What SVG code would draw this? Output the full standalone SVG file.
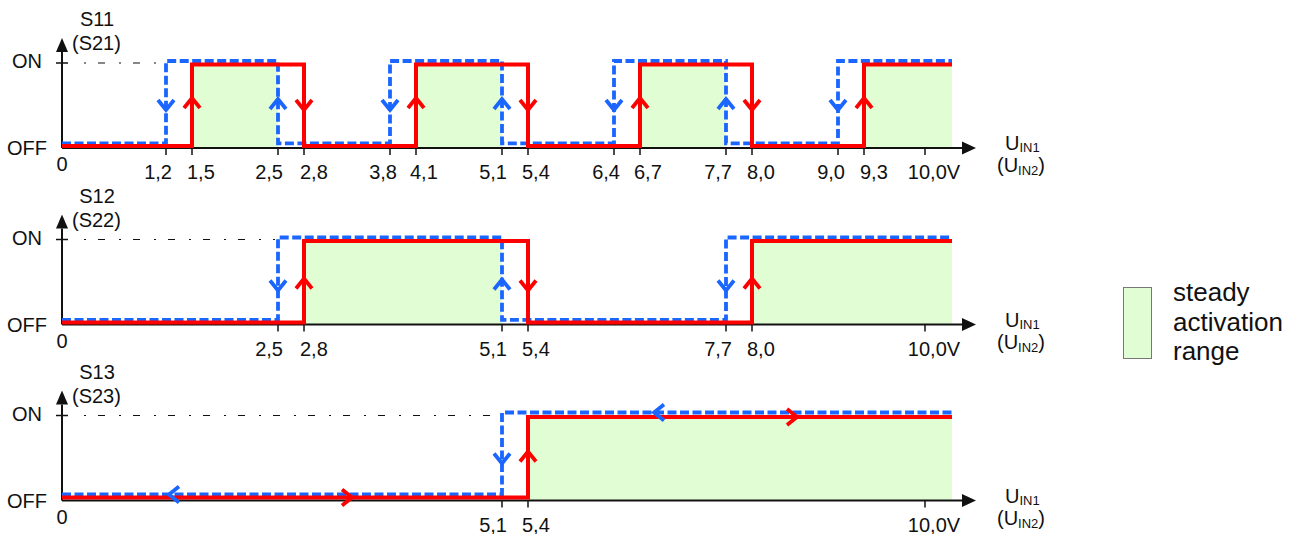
<svg xmlns="http://www.w3.org/2000/svg" xmlns:xlink="http://www.w3.org/1999/xlink" width="1295" height="534" viewBox="0 0 1295 534">
<style>
text{font-family:"Liberation Sans",Arial,sans-serif;fill:#111;}
.lbl{font-size:20px;}
.sub{font-size:13px;}
.leg{font-size:26px;}
.axis{stroke:#111;stroke-width:2;fill:none;}
.tick{stroke:#111;stroke-width:1.5;}
.dd{stroke:#111;stroke-width:1.2;stroke-dasharray:2,12,7,14;fill:none;}
.green{fill:#e0fdd4;}
.red{stroke:#ff0000;stroke-width:4;fill:none;stroke-linejoin:miter;}
.blue{stroke:#1a66ff;stroke-width:3.8;fill:none;stroke-dasharray:9,3.5;}
.rch{stroke:#ff0000;stroke-width:3.8;fill:none;}
.bch{stroke:#1a66ff;stroke-width:3.8;fill:none;}
</style>
<defs>
<path id="up" d="M-8,10 L0,0 L8,10"/>
<path id="dn" d="M-8,-10 L0,0 L8,-10"/>
<path id="lt" d="M10,-8 L0,0 L10,8"/>
<path id="rt" d="M-10,-8 L0,0 L-10,8"/>
</defs>

<!-- Panel 1 -->
<g id="panel1">
  <g id="p1-fill">
    <rect class="green" x="192" y="64.5" width="86" height="83"/>
    <rect class="green" x="416" y="64.5" width="86" height="83"/>
    <rect class="green" x="640" y="64.5" width="86" height="83"/>
    <rect class="green" x="864" y="64.5" width="88" height="83"/>
  </g>
  <g id="p1-axes">
    <line class="axis" x1="62" y1="148" x2="963" y2="148"/>
    <polygon points="976,148 962,141.5 962,154.5" fill="#111"/>
    <line class="axis" x1="62" y1="148" x2="62" y2="52"/>
    <polygon points="62,38 56,52 68,52" fill="#111"/>
    <line class="tick" x1="56" y1="63" x2="68" y2="63"/>
    <line class="dd" x1="84" y1="63" x2="163" y2="63"/>
    <g class="tick">
      <line x1="166" y1="148" x2="166" y2="155"/><line x1="192" y1="148" x2="192" y2="155"/>
      <line x1="278" y1="148" x2="278" y2="155"/><line x1="304" y1="148" x2="304" y2="155"/>
      <line x1="390" y1="148" x2="390" y2="155"/><line x1="416" y1="148" x2="416" y2="155"/>
      <line x1="502" y1="148" x2="502" y2="155"/><line x1="528" y1="148" x2="528" y2="155"/>
      <line x1="614" y1="148" x2="614" y2="155"/><line x1="640" y1="148" x2="640" y2="155"/>
      <line x1="726" y1="148" x2="726" y2="155"/><line x1="752" y1="148" x2="752" y2="155"/>
      <line x1="838" y1="148" x2="838" y2="155"/><line x1="864" y1="148" x2="864" y2="155"/>
      <line x1="925" y1="148" x2="925" y2="155"/>
    </g>
  </g>
  <g id="p1-lines">
    <path class="blue" d="M62,143.3 H166 V61 H278 V143.3 H390 V61 H502 V143.3 H614 V61 H726 V143.3 H838 V61 H952"/>
    <path class="red" d="M62,146 H192 V64.5 H304 V146 H416 V64.5 H528 V146 H640 V64.5 H752 V146 H864 V64.5 H952"/>
    <use href="#dn" class="bch" x="166" y="110"/>
    <use href="#up" class="rch" x="192" y="98"/>
    <use href="#up" class="bch" x="278" y="99"/>
    <use href="#dn" class="rch" x="304" y="110"/>
    <use href="#dn" class="bch" x="390" y="110"/>
    <use href="#up" class="rch" x="416" y="98"/>
    <use href="#up" class="bch" x="502" y="99"/>
    <use href="#dn" class="rch" x="528" y="110"/>
    <use href="#dn" class="bch" x="614" y="110"/>
    <use href="#up" class="rch" x="640" y="98"/>
    <use href="#up" class="bch" x="726" y="99"/>
    <use href="#dn" class="rch" x="752" y="110"/>
    <use href="#dn" class="bch" x="838" y="110"/>
    <use href="#up" class="rch" x="864" y="98"/>
  </g>
  <g id="p1-labels" class="lbl">
    <text x="97" y="26" text-anchor="middle">S11</text>
    <text x="72" y="50">(S21)</text>
    <text x="12" y="68">ON</text>
    <text x="7" y="155">OFF</text>
    <text x="62" y="171" text-anchor="middle">0</text>
    <text x="172" y="179" text-anchor="end">1,2</text>
    <text x="187" y="179">1,5</text>
    <text x="283" y="179" text-anchor="end">2,5</text>
    <text x="300" y="179">2,8</text>
    <text x="397" y="179" text-anchor="end">3,8</text>
    <text x="410" y="179">4,1</text>
    <text x="507" y="179" text-anchor="end">5,1</text>
    <text x="522" y="179">5,4</text>
    <text x="620" y="179" text-anchor="end">6,4</text>
    <text x="634" y="179">6,7</text>
    <text x="732" y="179" text-anchor="end">7,7</text>
    <text x="747" y="179">8,0</text>
    <text x="845" y="179" text-anchor="end">9,0</text>
    <text x="860" y="179">9,3</text>
    <text x="934" y="179" text-anchor="middle">10,0V</text>
    <text x="1005" y="150">U<tspan class="sub" dy="2">IN1</tspan></text>
    <text x="997" y="172">(U<tspan class="sub" dy="3">IN2</tspan><tspan dy="-3">)</tspan></text>
  </g>
</g>

<!-- Panel 2 -->
<g id="panel2" transform="translate(0,176.5)">
  <g id="p2-fill">
    <rect class="green" x="304" y="64.5" width="198" height="83"/>
    <rect class="green" x="752" y="64.5" width="200" height="83"/>
  </g>
  <g id="p2-axes">
    <line class="axis" x1="62" y1="148" x2="963" y2="148"/>
    <polygon points="976,148 962,141.5 962,154.5" fill="#111"/>
    <line class="axis" x1="62" y1="148" x2="62" y2="52"/>
    <polygon points="62,38 56,52 68,52" fill="#111"/>
    <line class="tick" x1="56" y1="63" x2="68" y2="63"/>
    <line class="dd" x1="84" y1="63" x2="275" y2="63"/>
    <g class="tick">
      <line x1="278" y1="148" x2="278" y2="155"/><line x1="304" y1="148" x2="304" y2="155"/>
      <line x1="502" y1="148" x2="502" y2="155"/><line x1="528" y1="148" x2="528" y2="155"/>
      <line x1="726" y1="148" x2="726" y2="155"/><line x1="752" y1="148" x2="752" y2="155"/>
      <line x1="925" y1="148" x2="925" y2="155"/>
    </g>
  </g>
  <g id="p2-lines">
    <path class="blue" d="M62,143.3 H278 V61 H502 V143.3 H726 V61 H952"/>
    <path class="red" d="M62,146 H304 V64.5 H528 V146 H752 V64.5 H952"/>
    <use href="#dn" class="bch" x="278" y="114"/>
    <use href="#up" class="rch" x="304" y="102"/>
    <use href="#up" class="bch" x="502" y="103"/>
    <use href="#dn" class="rch" x="528" y="114"/>
    <use href="#dn" class="bch" x="726" y="114"/>
    <use href="#up" class="rch" x="752" y="102"/>
  </g>
  <g id="p2-labels" class="lbl">
    <text x="97" y="26" text-anchor="middle">S12</text>
    <text x="72" y="50">(S22)</text>
    <text x="12" y="68">ON</text>
    <text x="7" y="155">OFF</text>
    <text x="62" y="171" text-anchor="middle">0</text>
    <text x="283" y="179" text-anchor="end">2,5</text>
    <text x="300" y="179">2,8</text>
    <text x="507" y="179" text-anchor="end">5,1</text>
    <text x="522" y="179">5,4</text>
    <text x="732" y="179" text-anchor="end">7,7</text>
    <text x="747" y="179">8,0</text>
    <text x="934" y="179" text-anchor="middle">10,0V</text>
    <text x="1005" y="150">U<tspan class="sub" dy="2">IN1</tspan></text>
    <text x="997" y="172">(U<tspan class="sub" dy="3">IN2</tspan><tspan dy="-3">)</tspan></text>
  </g>
</g>

<!-- Panel 3 -->
<g id="panel3" transform="translate(0,352.5)">
  <g id="p3-fill">
    <rect class="green" x="528" y="64.5" width="424" height="83"/>
  </g>
  <g id="p3-axes">
    <line class="axis" x1="62" y1="148" x2="963" y2="148"/>
    <polygon points="976,148 962,141.5 962,154.5" fill="#111"/>
    <line class="axis" x1="62" y1="148" x2="62" y2="52"/>
    <polygon points="62,38 56,52 68,52" fill="#111"/>
    <line class="tick" x1="56" y1="63" x2="68" y2="63"/>
    <line class="dd" x1="84" y1="63" x2="499" y2="63"/>
    <g class="tick">
      <line x1="502" y1="148" x2="502" y2="155"/><line x1="528" y1="148" x2="528" y2="155"/>
      <line x1="925" y1="148" x2="925" y2="155"/>
    </g>
  </g>
  <g id="p3-lines">
    <path class="blue" d="M62,142 H502 V60 H952"/>
    <path class="red" d="M62,145 H528 V64.5 H952"/>
    <use href="#dn" class="bch" x="502" y="111"/>
    <use href="#up" class="rch" x="528" y="99"/>
    <use href="#lt" class="bch" x="654" y="60"/>
    <use href="#rt" class="rch" x="797" y="64.5"/>
    <use href="#lt" class="bch" x="169" y="142"/>
    <use href="#rt" class="rch" x="352" y="145"/>
  </g>
  <g id="p3-labels" class="lbl">
    <text x="97" y="26" text-anchor="middle">S13</text>
    <text x="72" y="50">(S23)</text>
    <text x="12" y="68">ON</text>
    <text x="7" y="155">OFF</text>
    <text x="62" y="171" text-anchor="middle">0</text>
    <text x="507" y="179" text-anchor="end">5,1</text>
    <text x="522" y="179">5,4</text>
    <text x="934" y="179" text-anchor="middle">10,0V</text>
    <text x="1005" y="150">U<tspan class="sub" dy="2">IN1</tspan></text>
    <text x="997" y="172">(U<tspan class="sub" dy="3">IN2</tspan><tspan dy="-3">)</tspan></text>
  </g>
</g>

<!-- Legend -->
<g id="legend">
  <rect x="1123.5" y="287.5" width="28" height="71" fill="#e0fdd4" stroke="#777" stroke-width="1"/>
  <text class="leg" x="1173" y="301">steady</text>
  <text class="leg" x="1173" y="331">activation</text>
  <text class="leg" x="1173" y="360">range</text>
</g>
</svg>
